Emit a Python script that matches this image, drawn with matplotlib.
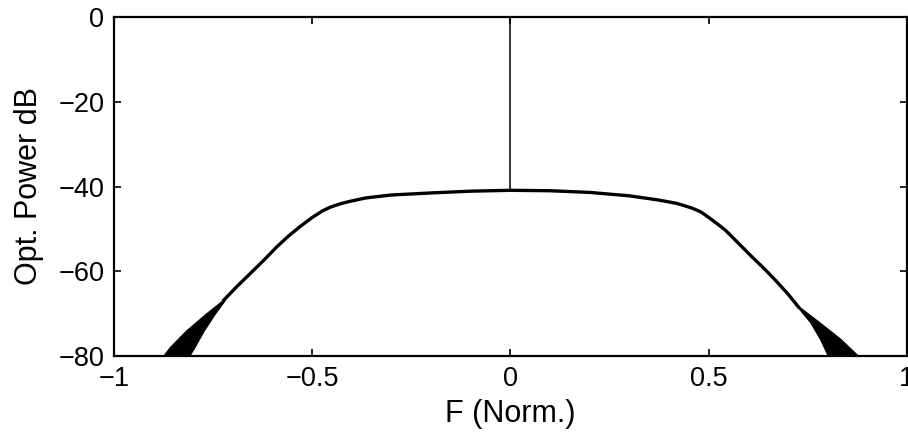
import matplotlib
matplotlib.use("Agg")
import matplotlib.pyplot as plt
import numpy as np

plt.rcParams['font.family'] = ['Liberation Sans', 'DejaVu Sans']

# main spectral envelope
freq = [-0.723, -0.690, -0.656, -0.620, -0.589, -0.560, -0.530, -0.500, -0.475, -0.455,
        -0.430, -0.405, -0.365, -0.300, -0.196, -0.100, 0.0,
        0.100, 0.200, 0.300, 0.374, 0.420, 0.458, 0.480, 0.500, 0.520, 0.542,
        0.575, 0.609, 0.640, 0.668, 0.700, 0.726]
power = [-66.8, -63.6, -60.5, -57.2, -54.2, -51.7, -49.4, -47.3, -45.8, -44.9,
         -44.1, -43.5, -42.7, -42.0, -41.5, -41.1, -40.9,
         -41.0, -41.4, -42.2, -43.2, -44.0, -45.1, -46.0, -47.3, -48.7, -50.3,
         -53.4, -56.6, -59.4, -62.1, -65.4, -68.4]

# noisy tails (black wedges) : dB level, outer edge, inner edge
left_db = [-66.8, -70, -74, -78, -80]
left_outer = [-0.725, -0.768, -0.818, -0.860, -0.876]
left_inner = [-0.721, -0.746, -0.774, -0.798, -0.811]
right_db = [-68.4, -72, -76, -80]
right_inner = [0.724, 0.756, 0.781, 0.801]
right_outer = [0.728, 0.778, 0.832, 0.877]

# carrier line
carrier_f = [0.0, 0.0]
carrier_db = [-40.9, 0.0]

fig = plt.figure(figsize=(9.08, 4.38), dpi=100)
ax = fig.add_axes([114 / 908, (438 - 356) / 438, (907 - 114) / 908, (356 - 17) / 438])

ax.plot(freq, power, color='black', lw=2.4, solid_joinstyle='round')
ax.fill_betweenx(left_db, left_outer, left_inner, color='black', lw=1.0)
ax.fill_betweenx(right_db, right_inner, right_outer, color='black', lw=1.0)
ax.plot(carrier_f, carrier_db, color='black', lw=1.1)

ax.set_xlim(-1, 1)
ax.set_ylim(-80, 0)
ax.set_xticks([-1, -0.5, 0, 0.5, 1])
ax.set_xticklabels(['\u22121', '\u22120.5', '0', '0.5', '1'])
ax.set_yticks([-80, -60, -40, -20, 0])
ax.tick_params(direction='in', length=5, width=1.2, top=True, right=True,
               labelsize=19.5, pad=7)
for s in ax.spines.values():
    s.set_linewidth(1.6)

ax.set_xlabel('F (Norm.)', fontsize=22, labelpad=5)
ax.set_ylabel('Opt. Power dB', fontsize=22, labelpad=10)

fig.savefig('out.png', dpi=100)
